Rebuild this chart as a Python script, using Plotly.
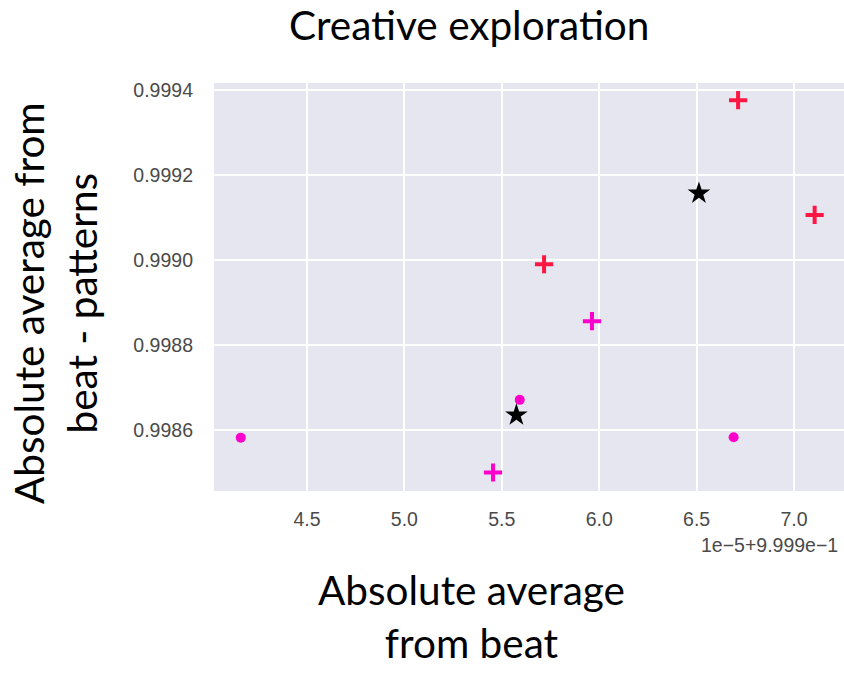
import plotly.graph_objects as go

# x values are offsets in units of 1e-5 from 0.9999 (shown via the offset label)
dots_x = [4.160, 5.592, 6.690]
dots_y = [0.998582, 0.998671, 0.998583]

pink_plus_x = [5.455, 5.963]
pink_plus_y = [0.998500, 0.998856]

red_plus_x = [5.717, 6.713, 7.106]
red_plus_y = [0.998990, 0.999376, 0.999106]

star_x = [5.575, 6.512]
star_y = [0.998635, 0.999157]

x_ticks = [4.5, 5.0, 5.5, 6.0, 6.5, 7.0]
y_ticks = [0.9986, 0.9988, 0.9990, 0.9992, 0.9994]

W, H = 844, 673
L, R, T, B = 214, 0, 83, 182
PW, PH = W - L - R, H - T - B


def px(x):
    return (x - L) / PW


def py(y):
    return (H - B - y) / PH


MAGENTA = "#ff00cc"
RED = "#ff1744"

fig = go.Figure()
fig.add_trace(go.Scatter(x=dots_x, y=dots_y, mode="markers",
                         marker=dict(symbol="circle", size=10, color=MAGENTA)))
fig.add_trace(go.Scatter(x=pink_plus_x, y=pink_plus_y, mode="markers",
                         marker=dict(symbol="cross-thin", size=13,
                                     line=dict(color=MAGENTA, width=4))))
fig.add_trace(go.Scatter(x=red_plus_x, y=red_plus_y, mode="markers",
                         marker=dict(symbol="cross-thin", size=13,
                                     line=dict(color=RED, width=4))))
fig.add_trace(go.Scatter(x=star_x, y=star_y, mode="markers",
                         marker=dict(symbol="star", size=17, color="black")))

tick_font = dict(family="Liberation Sans, Arial, sans-serif", size=19.5, color="#4a4a4a")
title_font = "Lato, Open Sans, sans-serif"

fig.update_layout(
    width=W, height=H,
    margin=dict(l=L, r=R, t=T, b=B),
    paper_bgcolor="white",
    plot_bgcolor="#e6e6f0",
    showlegend=False,
    xaxis=dict(range=[4.0226, 7.2567], tickvals=x_ticks,
               ticktext=[f"{v:.1f}" for v in x_ticks],
               showgrid=True, gridcolor="white", gridwidth=2,
               zeroline=False, showline=False, ticks="",
               tickfont=tick_font, ticklabelstandoff=14),
    yaxis=dict(range=[0.9984565, 0.9994165], tickvals=y_ticks,
               ticktext=[f"{v:.4f}" for v in y_ticks],
               showgrid=True, gridcolor="white", gridwidth=2,
               zeroline=False, showline=False, ticks="",
               tickfont=tick_font, ticklabelstandoff=20),
    annotations=[
        dict(text="Creative exploration", xref="paper", yref="paper",
             x=px(469), y=py(24), xanchor="center", yanchor="middle",
             showarrow=False, font=dict(family=title_font, size=40.5, color="black")),
        dict(text="Absolute average<br>from beat", xref="paper", yref="paper",
             x=px(471), y=py(616), xanchor="center", yanchor="middle",
             showarrow=False, align="center",
             font=dict(family=title_font, size=40.5, color="black")),
        dict(text="Absolute average from<br>beat - patterns", xref="paper", yref="paper",
             x=px(55), y=py(303), xanchor="center", yanchor="middle",
             showarrow=False, align="center", textangle=-90,
             font=dict(family=title_font, size=40.5, color="black")),
        dict(text="1e\u22125+9.999e\u22121", xref="paper", yref="paper",
             x=px(840), y=py(545), xanchor="right", yanchor="middle",
             showarrow=False, font=tick_font),
    ],
)

fig.write_html("out.html")
